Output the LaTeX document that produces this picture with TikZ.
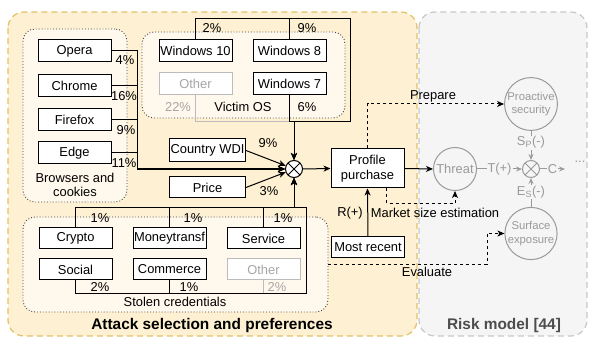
\documentclass[tikz,border=0pt]{standalone}
\usepackage{fontspec}
\setmainfont{Liberation Sans}
\usetikzlibrary{arrows.meta,calc}
\definecolor{orfill}{HTML}{FEF0D2}
\definecolor{orline}{HTML}{E3C167}
\definecolor{grpfill}{HTML}{FFF8EC}
\definecolor{gyfill}{HTML}{F5F5F5}
\definecolor{gyline}{HTML}{C8C8C8}
\definecolor{faint}{HTML}{A6A6A6}
\definecolor{faintline}{HTML}{BBBBBB}
\definecolor{riskgray}{HTML}{9A9A9A}
\definecolor{titlegray}{HTML}{4D4D4D}
\newcommand{\myfs}{\fontsize{12.9}{14.5}\selectfont}
\newcommand{\mysmall}{\fontsize{11.3}{13.5}\selectfont}
\newcommand{\mybig}{\bfseries\fontsize{15.4}{18}\selectfont}
\begin{document}
\begin{tikzpicture}[x=1pt,y=-1pt,
  grp/.style={draw=black!75, dotted, line width=0.9pt, fill=grpfill, rounded corners=12pt, inner sep=0pt},
  box/.style={draw=black, fill=white, line width=1pt, minimum width=73pt, minimum height=22pt, inner sep=0pt, font=\myfs},
  fbox/.style={box, draw=faintline, text=faint},
  ln/.style={line width=1pt, draw=black},
  fln/.style={line width=1pt, draw=faintline},
  gln/.style={line width=1pt, draw=riskgray},
  dln/.style={ln, dash pattern=on 3pt off 3pt},
  arr/.style={-{Stealth[length=7pt,width=6pt,inset=2pt]}},
  garr/.style={-{Stealth[length=6pt,width=5pt,inset=2pt]}},
  lbl/.style={font=\myfs, inner sep=1pt},
  glbl/.style={lbl, text=riskgray, fill=gyfill},
  sumc/.style={circle, draw, line width=1pt, minimum size=17pt, inner sep=0pt, fill=white,
    path picture={\draw[line width=1pt] (path picture bounding box.north west) -- (path picture bounding box.south east)
      (path picture bounding box.north east) -- (path picture bounding box.south west);}},
  gsumc/.style={sumc, draw=riskgray, fill=gyfill,
    path picture={\draw[line width=1pt, riskgray] (path picture bounding box.north west) -- (path picture bounding box.south east)
      (path picture bounding box.north east) -- (path picture bounding box.south west);}},
  risk/.style={circle, draw=riskgray, line width=1pt, inner sep=0pt, text=riskgray, align=center}
]
\useasboundingbox (0,0) rectangle (590,339);

% containers
\draw[orline, fill=orfill, dash pattern=on 6pt off 4pt, line width=1.2pt, rounded corners=16pt] (8,12) rectangle (417,336);
\draw[gyline, fill=gyfill, dash pattern=on 6pt off 4pt, line width=1.2pt, rounded corners=16pt] (419,12) rectangle (587,336);

% groups
\node[grp, minimum width=104pt, minimum height=173pt] (bgrp) at (75,115.5) {};
\node[grp, minimum width=203pt, minimum height=86pt] (osgrp) at (243.5,75) {};
\node[grp, minimum width=305pt, minimum height=95pt] (stolen) at (175.5,264.5) {};
\node[lbl, align=center] (bgrplbl) at (75,185) {Browsers and\\cookies};
\node[lbl] (osgrplbl) at (243,107) {Victim OS};
\node[lbl] (stolenlbl) at (175,302) {Stolen credentials};

% browser boxes
\node[box] (opera) at (74.5,51) {Opera};
\node[box] (chrome) at (74.5,86) {Chrome};
\node[box] (firefox) at (74.5,120) {Firefox};
\node[box] (edge) at (74.5,153) {Edge};

% OS boxes
\node[box] (w10) at (195.5,50.5) {Windows 10};
\node[box] (w8) at (289.5,50.5) {Windows 8};
\node[fbox] (oos) at (195.5,84) {Other};
\node[box] (w7) at (289.5,84) {Windows 7};

% other inputs
\node[box, minimum width=76pt, minimum height=23pt] (wdi) at (207.5,150.5) {Country WDI};
\node[box, minimum width=76pt, minimum height=21pt] (price) at (207.5,187.5) {Price};

% credential boxes
\node[box, minimum height=21pt] (crypto) at (75.5,238.5) {Crypto};
\node[box, minimum height=21pt] (money) at (169.5,238.5) {Moneytransf};
\node[box, minimum height=21pt] (service) at (263.5,238.5) {Service};
\node[box, minimum height=21pt] (social) at (75.5,269.5) {Social};
\node[box, minimum height=21pt] (commerce) at (169.5,269.5) {Commerce};
\node[fbox, minimum height=21pt] (ocred) at (263.5,269.5) {Other};

% combiner
\node[sumc] (x1) at (294,169) {};

% profile / recent
\node[box, minimum height=39pt, align=center] (profile) at (367.5,168.5) {Profile\\purchase};
\node[box, minimum height=21pt] (recent) at (368,247.5) {Most recent};

% risk model
\node[risk, minimum size=43pt, font=\myfs] (threat) at (455,169) {Threat};
\node[gsumc] (x2) at (531,169) {};
\node[risk, minimum size=51pt, font=\mysmall] (pro) at (531,104) {Proactive\\security};
\node[risk, minimum size=51pt, font=\mysmall] (sur) at (531,233.5) {Surface\\exposure};
\coordinate (cend) at (565,169);
\node[lbl, text=riskgray] (dots) at (580,162) {...};

% helper coordinates
\coordinate (ostop) at (0,19);
\coordinate (osbot) at (0,122);
\coordinate (osright) at (350,0);
\coordinate (crtop) at (0,208);
\coordinate (crbot) at (0,294);
\coordinate (crright) at (306,0);
\coordinate (evbend) at (487,0);

% browser edges
\foreach \b in {opera,chrome,firefox,edge}{
  \draw[ln,arr] (\b.east) -- ++(26,0) |- (x1.west);
}
\draw[line width=1.6pt] (137,169) -- (282,169);
\node[lbl] (l4) at (125,60) {4\%};
\node[lbl] (l16) at (124,96) {16\%};
\node[lbl] (l9b) at (126,130) {9\%};
\node[lbl] (l11) at (124,163) {11\%};

% OS edges
\draw[fln] (oos.south) -- (oos.south |- osbot) -- (x1 |- osbot);
\draw[ln,arr] (w10.north) -- (w10.north |- ostop) -- (osright |- ostop) -- (osright |- osbot) -- (x1 |- osbot) -- (x1.north);
\draw[ln,arr] (w8.north) -- (w8.north |- ostop) -- (osright |- ostop) -- (osright |- osbot) -- (x1 |- osbot) -- (x1.north);
\draw[ln,arr] (w7.south) -- (w7.south |- osbot) -- (x1 |- osbot) -- (x1.north);
\node[lbl] (l2os) at (212,28) {2\%};
\node[lbl] (l9os) at (307,28) {9\%};
\node[lbl, text=faint] (l22) at (178,107) {22\%};
\node[lbl] (l6) at (307,107) {6\%};

% WDI / price
\draw[ln,arr] (wdi.east) -- (x1);
\draw[ln,arr] (price.east) -- (x1);
\node[lbl] (l9w) at (268,143) {9\%};
\node[lbl] (l3) at (269,191) {3\%};

% credential edges
\draw[fln] (ocred.south) -- (ocred.south |- crbot) -- (crright |- crbot);
\draw[ln,arr] (crypto.north) -- (crypto.north |- crtop) -- (x1 |- crtop) -- (x1.south);
\draw[ln,arr] (money.north) -- (money.north |- crtop) -- (x1 |- crtop) -- (x1.south);
\draw[ln,arr] (service.north) -- (service.north |- crtop) -- (x1 |- crtop) -- (x1.south);
\draw[ln,arr] (social.south) -- (social.south |- crbot) -- (crright |- crbot) -- (crright |- crtop) -- (x1 |- crtop) -- (x1.south);
\draw[ln,arr] (commerce.south) -- (commerce.south |- crbot) -- (crright |- crbot) -- (crright |- crtop) -- (x1 |- crtop) -- (x1.south);
\node[lbl] (c1) at (100,218) {1\%};
\node[lbl] (c2) at (193,218) {1\%};
\node[lbl] (c3) at (283,218) {1\%};
\node[lbl] (c4) at (100,287) {2\%};
\node[lbl] (c5) at (189,287) {1\%};
\node[lbl, text=faint] (c6) at (277,287) {2\%};

% profile edges
\draw[ln,arr] (x1.east) -- (profile.west);
\draw[ln,arr] (recent.north) -- (profile.south);
\node[lbl] (lr) at (350,213) {R(+)};
\draw[ln,arr] (profile.east) -- (threat.west);

% dashed edges
\draw[dln,arr] (profile.north) |- (pro.west);
\node[lbl] (lprep) at (433,96) {Prepare};
\draw[dln,arr] ($(profile.south)+(19,0)$) -- ++(0,15) -| (threat.south);
\node[lbl] (lmkt) at (435,213) {Market size estimation};
\draw[dln,arr] (stolen.east) -- (evbend |- stolen.east) |- (sur.west);
\node[lbl] (leval) at (427,272) {Evaluate};

% risk model edges
\draw[gln,garr] (threat.east) -- node[glbl] {T(+)} (x2.west);
\draw[gln,garr] (x2.east) -- node[glbl] {C} (cend);
\draw[gln,garr] (pro.south) -- node[glbl, pos=0.4] {S\textsubscript{P}(-)} (x2.north);
\draw[gln,garr] (sur.north) -- node[glbl] {E\textsubscript{S}(-)} (x2.south);

% titles
\node[font=\mybig, inner sep=0pt] (t1) at (212,326) {Attack selection and preferences};
\node[font=\mybig, text=titlegray, inner sep=0pt] (t2) at (504,326) {Risk model [44]};
\end{tikzpicture}
\end{document}
